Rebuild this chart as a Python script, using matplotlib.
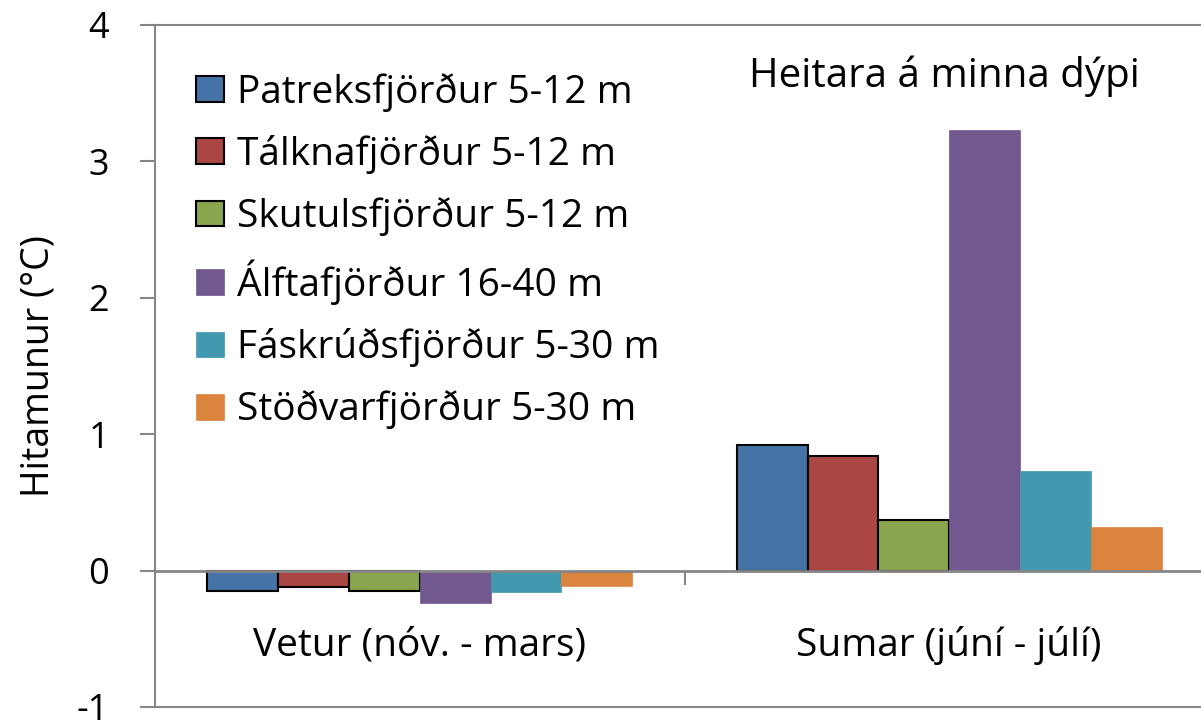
import matplotlib.pyplot as plt
import matplotlib.patches as mpatches
import matplotlib.transforms as mtransforms
import numpy as np

categories = ["Vetur (nóv. - mars)", "Sumar (júní - júlí)"]
series_names = ["Patreksfjörður 5-12 m", "Tálknafjörður 5-12 m", "Skutulsfjörður 5-12 m",
                "Álftafjörður 16-40 m", "Fáskrúðsfjörður 5-30 m", "Stöðvarfjörður 5-30 m"]
patreks = [-0.15, 0.92]
talkna = [-0.12, 0.84]
skutuls = [-0.15, 0.37]
alfta = [-0.24, 3.23]
faskruds = [-0.16, 0.73]
stodvar = [-0.11, 0.32]
series = [patreks, talkna, skutuls, alfta, faskruds, stodvar]
colors = ["#4572A7", "#AA4643", "#89A54E", "#71588F", "#4198AF", "#DB843D"]
edged = [True, True, True, False, False, False]

plt.rcParams['font.family'] = ['Open Sans', 'DejaVu Sans']
plt.rcParams['axes.unicode_minus'] = False
grey = "#868686"

fig = plt.figure(figsize=(12.01, 7.23), dpi=100)
ax = fig.add_axes([155 / 1201, 1 - 707 / 723, 1059 / 1201, 682 / 723])

x = np.arange(len(categories))
bw = 0.1337
handles = []
for i, (vals, c, e) in enumerate(zip(series, colors, edged)):
    off = (i - 2.5) * bw
    ax.bar(x + off, vals, bw, color=c, edgecolor='black' if e else c,
           linewidth=1.5 if e else 0.5, zorder=2)
    handles.append(mpatches.Patch(facecolor=c, edgecolor='black' if e else c,
                                  linewidth=1.5 if e else 0.5, label=series_names[i]))

ax.set_xlim(-0.5, 1.5)
ax.set_ylim(-1, 4)
ax.set_yticks([-1, 0, 1, 2, 3, 4])
ax.tick_params(axis='y', length=11, width=1.5, color=grey, labelsize=26, pad=22)

for s in ['left', 'top']:
    ax.spines[s].set_color(grey)
    ax.spines[s].set_linewidth(1.5)
ax.spines['right'].set_visible(False)
ax.spines['bottom'].set_position(('data', 0))
ax.spines['bottom'].set_color(grey)
ax.spines['bottom'].set_linewidth(2)
ax.axhline(-1, color=grey, linewidth=1.5, clip_on=False)

ax.set_xticks([0.5])
ax.set_xticklabels([""])
ax.tick_params(axis='x', length=10, width=1.5, color=grey)

trans = mtransforms.blended_transform_factory(ax.transData, ax.transAxes)
for xi, lab in zip(x, categories):
    ax.text(xi, 0.09, lab, transform=trans, ha='center', va='center', fontsize=28)

ax.set_ylabel("Hitamunur (°C)", fontsize=27, labelpad=14)

ax.text(0.99, 0.925, "Heitara á minna dýpi", transform=trans, ha='center',
        va='center', fontsize=29)

ax.legend(handles=handles, loc='upper left', bbox_to_anchor=(0.0387, 0.93),
          frameon=False, fontsize=28, handlelength=0.72, handleheight=0.64,
          handletextpad=0.33, labelspacing=0.6, borderaxespad=0, borderpad=0)

fig.savefig("out.png", dpi=100)
